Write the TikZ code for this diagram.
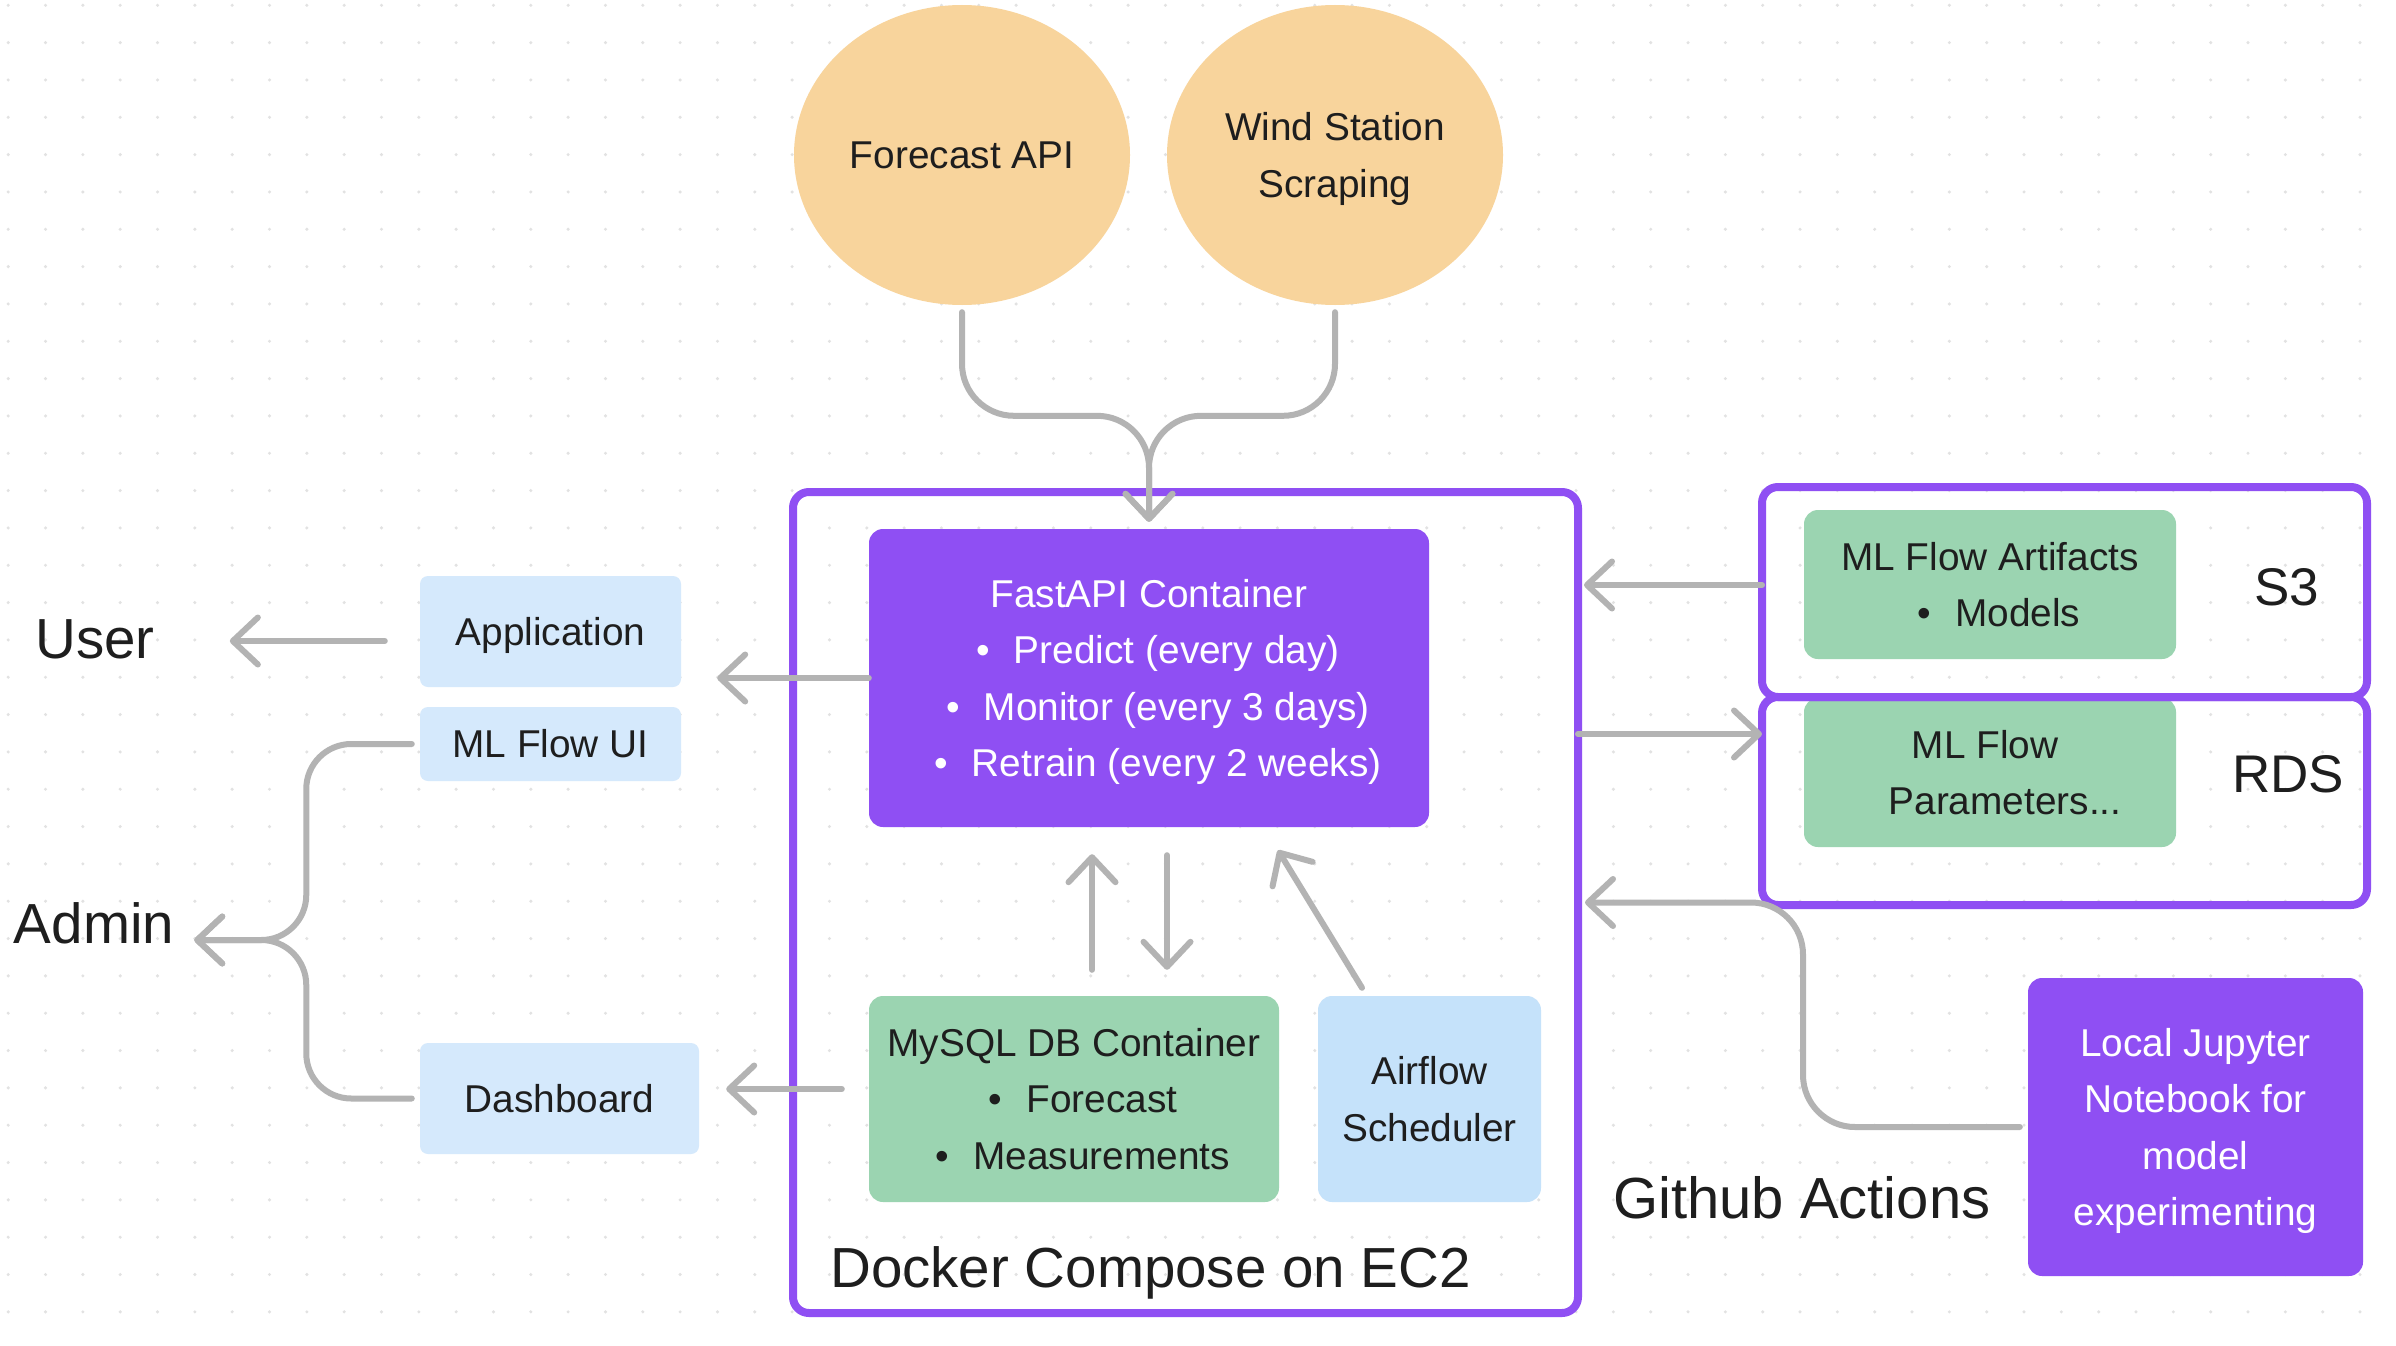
\documentclass[tikz,border=0pt]{standalone}
\usepackage{fontspec}
\setmainfont{Liberation Sans}
\usetikzlibrary{shapes.geometric,arrows.meta,calc}
\definecolor{purplec}{HTML}{8F4FF3}
\definecolor{greenc}{HTML}{9BD4B1}
\definecolor{orangec}{HTML}{F8D49C}
\definecolor{bluec}{HTML}{D5E9FC}
\definecolor{bluetwoc}{HTML}{C5E2FA}
\definecolor{grayc}{HTML}{B3B3B3}
\definecolor{inkc}{HTML}{1E1E1E}
\definecolor{dotc}{HTML}{E2E2E2}
\newcommand\tsr{\rule{0pt}{0.936em}}
\newcommand\bsr{\rule[-0.22em]{0pt}{0.22em}}
\newcommand\bul{\hspace*{18pt}\textbullet\hspace{0.62em}}
\begin{document}
\begin{tikzpicture}[x=1pt,y=-1pt,
  txt/.style={font=\fontsize{38.8pt}{56.5pt}\selectfont, align=center, text=inkc, inner sep=0pt},
  big/.style={font=\fontsize{56.5pt}{60pt}\selectfont, text=inkc, inner sep=0pt},
  mid/.style={font=\fontsize{53pt}{60pt}\selectfont, text=inkc, inner sep=0pt},
  ell/.style={ellipse, fill=orangec, txt, minimum width=336pt, minimum height=300pt},
  pbox/.style={rectangle, rounded corners=14pt, fill=purplec, txt, text=white},
  gbox/.style={rectangle, rounded corners=14pt, fill=greenc, txt},
  bbox/.style={rectangle, rounded corners=8pt, fill=bluec, txt},
  btwobox/.style={rectangle, rounded corners=14pt, fill=bluetwoc, txt},
  frame/.style={rectangle, draw=purplec, line width=8pt, rounded corners=16pt, inner sep=0pt, outer sep=0pt},
  conn/.style={draw=grayc, line width=6pt, line cap=round, line join=round, -{Straight Barb[length=25pt,width=47pt,round]}}
]
\useasboundingbox (0,0) rectangle (2396,1346);
\fill[white] (0,0) rectangle (2396,1346);
% dot grid
\fill[dotc] foreach \i in {0,...,63} { foreach \j in {0,...,35} { (8.2+37.33*\i, 5.3+37.33*\j) circle[radius=1.7pt] } };

% sources
\node[ell] (fc) at (962,155) {\tsr Forecast API\bsr};
\node[ell] (ws) at (1335,155) {\tsr Wind Station\\Scraping\bsr};

% docker compose frame
\node[frame, minimum width=785pt, minimum height=821pt] (dk) at (1185.5,902.5) {};
\node[big, anchor=west] (dlab) at (830,1267) {\tsr Docker Compose on EC2\bsr};
\node[pbox, minimum width=560pt, minimum height=298pt] (fa) at (1149,678)
  {\tsr FastAPI Container\\\bul Predict (every day)\\\bul Monitor (every 3 days)\\\bul Retrain (every 2 weeks)\bsr};
\node[gbox, minimum width=410pt, minimum height=206pt] (db) at (1074,1099)
  {\tsr MySQL DB Container\\\bul Forecast\\\bul Measurements\bsr};
\node[btwobox, minimum width=223pt, minimum height=206pt] (air) at (1429.5,1099) {\tsr Airflow\\Scheduler\bsr};

% left side
\node[bbox, minimum width=261pt, minimum height=111pt] (app) at (550.5,631.5) {\tsr Application\bsr};
\node[bbox, minimum width=261pt, minimum height=74pt] (mlui) at (550.5,744) {\tsr ML Flow UI\bsr};
\node[bbox, minimum width=279pt, minimum height=111pt] (dash) at (559.5,1098.5) {\tsr Dashboard\bsr};
\node[big] (user) at (95,638) {\tsr User\bsr};
\node[big] (admin) at (94,923) {\tsr Admin\bsr};

% right side
\node[gbox, minimum width=372pt, minimum height=149pt] (art) at (1990,584.5) {\tsr ML Flow Artifacts\\\bul Models\bsr};
\node[gbox, minimum width=372pt, minimum height=149pt] (par) at (1990,772.5) {\tsr ML Flow\hspace*{10pt}\\\hspace*{30pt}Parameters...\bsr};
\node[frame, minimum width=605pt, minimum height=210pt] (s3f) at (2064.5,592) {};
\node[frame, minimum width=605pt, minimum height=208pt] (rdsf) at (2064.5,801) {};
\node[mid] (s3l) at (2287,586.5) {\tsr S3\bsr};
\node[mid] (rdsl) at (2288,773.5) {\tsr RDS\bsr};
\node[pbox, minimum width=335pt, minimum height=298pt] (lj) at (2195.5,1127)
  {\tsr Local Jupyter\\Notebook for\\model\\experimenting\bsr};
\node[big, anchor=west, font=\fontsize{58pt}{60pt}\selectfont] (gh) at (1613,1198) {\tsr Github Actions\bsr};

% connectors
\draw[conn, rounded corners=52pt] ($(fc.south)+(0,7)$) |- ($(fa.north)+(0,-113)$) -- ($(fa.north)+(0,-7)$);
\draw[conn, rounded corners=52pt] ($(ws.south)+(0,7)$) |- ($(fa.north)+(0,-113)$) -- ($(fa.north)+(0,-7)$);
\draw[conn] (fa.west) -- ($(app.east |- fa.west)+(36,0)$);
\draw[conn] ($(app.west)+(-35,9.5)$) -- ($(user.east)+(75,3)$);
\coordinate (adj) at ($(admin.east)+(132,17)$);
\draw[conn, rounded corners=45pt] ($(mlui.west)+(-8,0)$) -| (adj) -- ($(admin.east)+(20,17)$);
\draw[conn, rounded corners=45pt] ($(dash.west)+(-8,0)$) -| (adj) -- ($(admin.east)+(20,17)$);
\draw[conn] ($(db.west)+(-27,-10)$) -- ($(dash.east)+(27,-9.5)$);
\draw[conn] ($(db.north)+(18,-26)$) -- ($(fa.south)+(-57,27)$);
\draw[conn] ($(fa.south)+(18,28)$) -- ($(db.north)+(93,-26)$);
\draw[conn] ($(air.north)+(-67.5,-8)$) -- ($(fa.south)+(129,23)$);
\draw[conn] ($(s3f.west)+(0,-7)$) -- ($(dk.east |- s3f.west)+(6,-7)$);
\draw[conn] ($(dk.east |- rdsf.west)+(0,-67)$) -- ($(rdsf.west)+(0,-67)$);
\draw[conn, rounded corners=52pt] ($(lj.west)+(-8,0)$) -| ($(dk.east)+(225,0)$) -- ($(dk.east)+(7,0)$);
\end{tikzpicture}
\end{document}
